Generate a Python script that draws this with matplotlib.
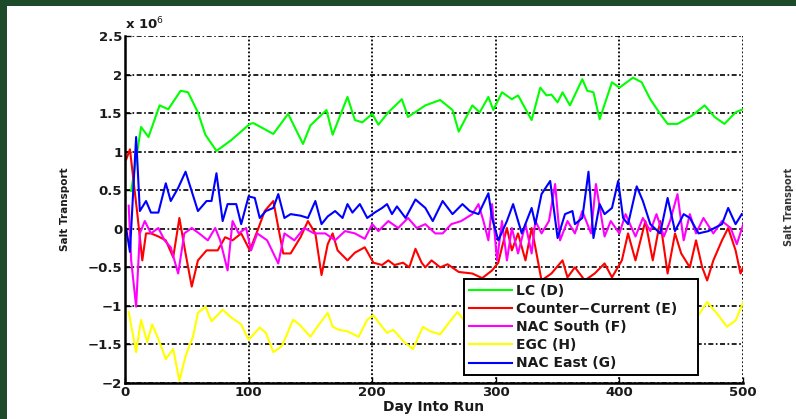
import matplotlib
matplotlib.use('Agg')
import matplotlib.pyplot as plt
from matplotlib.patches import Rectangle

# ---- data (values in units of 10^6) ----
green_day = [5, 13, 19, 28, 35, 45, 51, 59, 65, 74, 86, 101, 104, 120, 132, 144, 150, 163, 168, 180,
             186, 192, 200, 205, 213, 224, 229, 243, 255, 265, 270, 281, 287, 294, 298, 305, 313, 318, 329, 336,
             341, 345, 350, 354, 360, 370, 374, 379, 384, 394, 400, 411, 418, 425, 433, 439, 447, 459, 469, 477,
             485, 494, 500]
green_val = [0.49, 1.32, 1.19, 1.6, 1.55, 1.79, 1.77, 1.51, 1.22, 1.01, 1.15, 1.36, 1.37, 1.23, 1.49, 1.1, 1.34, 1.54, 1.22, 1.71,
             1.41, 1.38, 1.49, 1.35, 1.51, 1.68, 1.45, 1.6, 1.67, 1.54, 1.26, 1.6, 1.51, 1.71, 1.54, 1.77, 1.68, 1.73, 1.41, 1.83,
             1.73, 1.74, 1.64, 1.77, 1.6, 1.94, 1.79, 1.77, 1.42, 1.9, 1.83, 1.96, 1.9, 1.68, 1.49, 1.36, 1.36, 1.47, 1.6, 1.45,
             1.36, 1.51, 1.55]

red_day = [1, 4, 10, 14, 17, 21, 27, 33, 39, 44, 49, 54, 59, 66, 75, 81, 87, 94, 101, 108,
           113, 120, 128, 134, 142, 148, 154, 159, 164, 168, 172, 180, 186, 194, 201, 208, 213, 218, 225, 230,
           235, 240, 243, 248, 255, 261, 270, 281, 289, 297, 302, 305, 309, 313, 318, 324, 329, 332, 337, 345,
           354, 358, 364, 372, 380, 388, 394, 402, 407, 413, 421, 427, 433, 439, 445, 450, 457, 462, 467, 471,
           476, 483, 488, 494, 498, 500]
red_val = [0.9, 1.03, 0.19, -0.41, -0.06, -0.06, -0.1, -0.15, -0.37, 0.14, -0.32, -0.75, -0.41, -0.28, -0.28, -0.11, -0.15, -0.06, -0.28, 0.01,
           0.23, 0.36, -0.32, -0.32, -0.11, 0.1, -0.06, -0.6, -0.2, -0.06, -0.28, -0.41, -0.31, -0.24, -0.44, -0.47, -0.41, -0.47, -0.44, -0.5,
           -0.26, -0.44, -0.5, -0.41, -0.5, -0.46, -0.56, -0.58, -0.64, -0.54, -0.44, -0.24, 0.01, -0.28, -0.06, -0.41, 0.01, -0.24, -0.67, -0.58,
           -0.41, -0.63, -0.5, -0.67, -0.58, -0.45, -0.63, -0.41, -0.06, -0.41, 0.1, -0.41, 0.1, -0.58, -0.06, -0.32, -0.5, -0.15, -0.5, -0.67,
           -0.41, -0.15, 0.01, -0.28, -0.58, -0.5]

mag_day = [3, 5, 9, 12, 16, 21, 27, 32, 37, 43, 48, 54, 60, 67, 73, 77, 83, 87, 92, 98,
           102, 107, 115, 124, 129, 137, 145, 153, 162, 170, 178, 186, 194, 200, 205, 213, 221, 229, 236, 243,
           251, 257, 264, 272, 281, 286, 290, 294, 297, 301, 305, 309, 313, 318, 324, 329, 332, 337, 343, 348,
           352, 358, 364, 370, 377, 381, 388, 393, 400, 405, 413, 419, 425, 430, 436, 441, 447, 452, 457, 462,
           468, 476, 483, 490, 495, 500]
mag_val = [0.3, -0.41, -1.01, -0.06, 0.1, -0.06, 0.01, -0.15, -0.24, -0.58, -0.06, 0.01, -0.06, -0.15, 0.01, -0.15, -0.54, 0.1, -0.06, 0.01,
           -0.28, -0.06, -0.15, -0.45, -0.06, -0.15, 0.01, -0.06, -0.06, -0.15, -0.03, -0.06, -0.13, 0.06, -0.03, 0.1, 0.01, 0.14, 0.01, 0.06,
           -0.06, -0.06, 0.06, 0.1, 0.19, 0.32, 0.1, -0.15, 0.32, -0.41, 0.1, -0.41, 0.01, -0.32, 0.06, -0.32, 0.1, -0.06, 0.1, 0.58,
           -0.15, 0.1, -0.06, 0.23, -0.06, 0.58, -0.1, 0.1, -0.06, 0.19, -0.1, 0.14, -0.03, 0.19, -0.1, 0.1, 0.45, -0.15, 0.19, -0.06,
           0.14, -0.06, 0.1, 0.01, -0.2, 0.05]

yel_day = [3, 9, 13, 18, 22, 28, 33, 39, 44, 49, 55, 59, 65, 70, 79, 86, 94, 100, 109, 114,
           120, 127, 136, 141, 150, 157, 164, 168, 173, 180, 189, 196, 201, 206, 212, 217, 226, 233, 241, 247,
           255, 261, 269, 280, 295, 310, 330, 350, 370, 390, 410, 430, 450, 464, 471, 479, 487, 494, 500]
yel_val = [-1.08, -1.6, -1.18, -1.47, -1.24, -1.47, -1.69, -1.56, -1.97, -1.65, -1.4, -1.09, -1.01, -1.2, -1.05, -1.15, -1.24, -1.44, -1.28, -1.35,
           -1.6, -1.52, -1.18, -1.24, -1.4, -1.24, -1.09, -1.27, -1.31, -1.33, -1.4, -1.18, -1.12, -1.23, -1.35, -1.31, -1.47, -1.56, -1.27, -1.33,
           -1.37, -1.24, -1.08, -1.3, -1.2, -1.4, -1.25, -1.35, -1.2, -1.3, -1.15, -1.35, -1.25, -1.12, -0.95, -1.1, -1.27, -1.19, -0.96]

blue_day = [1, 4, 9, 12, 17, 21, 27, 33, 37, 43, 49, 59, 66, 70, 74, 79, 83, 90, 94, 100,
            105, 109, 114, 120, 124, 129, 134, 142, 148, 154, 159, 164, 170, 176, 180, 184, 190, 196, 202, 208,
            212, 216, 220, 227, 235, 243, 249, 257, 265, 273, 279, 286, 294, 297, 302, 309, 314, 321, 329, 332,
            337, 344, 350, 356, 362, 364, 370, 375, 379, 384, 388, 394, 399, 403, 407, 414, 419, 425, 433, 439,
            445, 452, 457, 464, 472, 483, 488, 494, 499]
blue_val = [0.0, -0.3, 1.19, 0.23, 0.36, 0.21, 0.21, 0.59, 0.36, 0.53, 0.74, 0.23, 0.36, 0.36, 0.72, 0.1, 0.32, 0.32, 0.06, 0.42,
            0.4, 0.14, 0.23, 0.27, 0.45, 0.14, 0.19, 0.17, 0.14, 0.36, 0.06, 0.16, 0.23, 0.14, 0.32, 0.21, 0.32, 0.14, 0.21, 0.27,
            0.32, 0.19, 0.29, 0.14, 0.38, 0.27, 0.1, 0.36, 0.19, 0.32, 0.23, 0.19, 0.46, 0.14, -0.15, 0.1, 0.32, -0.06, 0.27, 0.06,
            0.45, 0.62, -0.12, 0.19, 0.23, 0.06, 0.14, 0.74, -0.12, 0.32, 0.19, 0.27, 0.62, 0.14, 0.06, 0.55, 0.36, 0.06, -0.06, 0.4,
            -0.03, 0.19, 0.14, -0.06, -0.03, 0.06, 0.27, 0.06, 0.19]

labels = ['LC (D)', 'Counter\u2212Current (E)', 'NAC South (F)', 'EGC (H)', 'NAC East (G)']
colors = ['#00ff00', '#ff0000', '#ff00ff', '#ffff00', '#0000ff']
yticks = [-2, -1.5, -1, -0.5, 0, 0.5, 1, 1.5, 2, 2.5]
ytick_labels = ['\u22122', '\u22121.5', '\u22121', '\u22120.5', '0', '0.5', '1', '1.5', '2', '2.5']
xticks = [0, 100, 200, 300, 400, 500]

plt.rcParams['font.family'] = ['DejaVu Sans']
txt_col = '#1a1a1a'

fig = plt.figure(figsize=(7.96, 4.19), dpi=100)
fig.patch.set_facecolor('#1d4a28')
# white slide panel behind the chart
fig.patches.append(Rectangle((7 / 796, 0), 1, 1 - 6 / 419, transform=fig.transFigure,
                             facecolor='white', edgecolor='none', zorder=-10))

ax = fig.add_axes([125 / 796, 36 / 419, 618 / 796, 347 / 419], zorder=5)
ax.set_facecolor('white')

series = [(green_day, green_val), (red_day, red_val), (mag_day, mag_val),
          (yel_day, yel_val), (blue_day, blue_val)]
for (d, v), c, lab in zip(series, colors, labels):
    ax.plot(d, v, color=c, lw=1.5, label=lab)

ax.set_xlim(0, 500)
ax.set_ylim(-2, 2.5)
ax.set_xticks(xticks)
ax.set_yticks(yticks)
ax.set_yticklabels(ytick_labels)
ax.tick_params(direction='in', length=4, width=1, labelsize=9.5, pad=2, labelcolor=txt_col)
for t in ax.get_xticklabels() + ax.get_yticklabels():
    t.set_fontweight('bold')
ax.yaxis.grid(True, color='black', linestyle=(0, (3, 1.5, 1, 1.5)), linewidth=1.2)
ax.xaxis.grid(True, color='black', linestyle=(0, (1, 1.2)), linewidth=1.3)
for s in ['top', 'right']:
    ax.spines[s].set_visible(False)
for s in ['left', 'bottom']:
    ax.spines[s].set_linewidth(1.8)

ax.set_xlabel('Day Into Run', fontsize=10, fontweight='bold', labelpad=1, color=txt_col)
ax.set_ylabel('Salt Transport', fontsize=7.5, fontweight='bold', labelpad=13, color=txt_col)
ax.text(0.0, 1.01, r'x 10$^{6}$', transform=ax.transAxes, fontsize=9.5,
        fontweight='bold', ha='left', va='bottom', color=txt_col)

leg = ax.legend(loc='upper left', bbox_to_anchor=(0.549, 0.30, 0.378, 0.0), mode='expand',
                handlelength=3.1, handletextpad=0.3, labelspacing=0.3,
                borderpad=0.35, borderaxespad=0, fancybox=False, framealpha=1, edgecolor='black',
                prop={'weight': 'bold', 'size': 10})
leg.get_frame().set_linewidth(1.4)
for t in leg.get_texts():
    t.set_color(txt_col)

# edge of the neighbouring chart on the slide
fig.text(789 / 796, 1 - 207 / 419, 'Salt Transport', rotation=90, fontsize=7, fontweight='bold',
         ha='center', va='center', color='#333333')

fig.savefig('out.png', dpi=100, facecolor=fig.get_facecolor())
